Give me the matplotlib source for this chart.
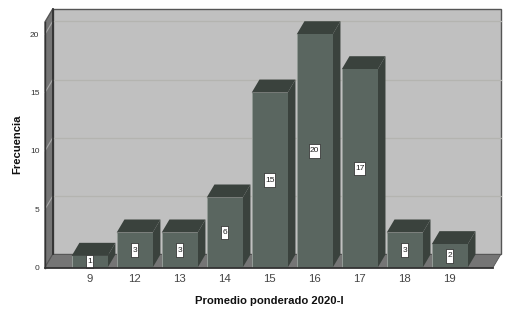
import matplotlib
matplotlib.use("Agg")
import matplotlib.pyplot as plt
from matplotlib.patches import Polygon
from matplotlib.path import Path

plt.rcParams['font.family'] = ['Liberation Sans', 'DejaVu Sans']

categories = ['9', '12', '13', '14', '15', '16', '17', '18', '19']
frequencies = [1, 3, 3, 6, 15, 20, 17, 3, 2]
y_ticks = [0, 5, 10, 15, 20]

W, H = 519, 321
fig = plt.figure(figsize=(W / 100, H / 100), dpi=100, facecolor='white')
ax = fig.add_axes([45 / W, 1 - 267.5 / H, 448 / W, 245.5 / H])
x0, x1, y0, y1 = -0.993, 8.96, 0, 21.05
ax.set_xlim(x0, x1)
ax.set_ylim(y0, y1)
for s in ax.spines.values():
    s.set_visible(False)
ax.patch.set_visible(False)

# oblique depth, in data units
dx = 7.7 / 45
dy = 13 / 11.65
width = 0.8
edge = '#555555'


def poly(pts, fc, ec='none', lw=0, z=1):
    ax.add_patch(Polygon(pts, closed=True, fc=fc, ec=ec, lw=lw, zorder=z, clip_on=False))


def label_box(x, y, w, h, mutation_size):
    px, py = 1.0, 3.2
    xa, xb, ya, yb = x - px, x + w + px, y - py, y + h + py
    return Path([(xa, ya), (xb, ya), (xb, yb), (xa, yb), (xa, ya)], closed=True)


# walls and floor
poly([(x0 + dx, y0 + dy), (x1 + dx, y0 + dy), (x1 + dx, y1 + dy), (x0 + dx, y1 + dy)], '#c0c0c0', edge, 1.0)
poly([(x0, y0), (x0 + dx, y0 + dy), (x0 + dx, y1 + dy), (x0, y1)], '#757575', edge, 1.0)
poly([(x0, y0), (x1, y0), (x1 + dx, y0 + dy), (x0 + dx, y0 + dy)], '#757575', edge, 0.6)

# gridlines on back and left walls
for t in y_ticks[1:]:
    ax.plot([x0 + dx, x1 + dx], [t + dy, t + dy], color='#b4b4b0', lw=0.9, zorder=1.5, clip_on=False)
    ax.plot([x0, x0 + dx], [t, t + dy], color='#a8a8a8', lw=0.8, zorder=1.5, clip_on=False)
ax.plot([x0, x1], [0, 0], color='#333333', lw=1.3, zorder=9, clip_on=False)
ax.plot([x0, x0], [0, y1], color='#333333', lw=1.0, zorder=9, clip_on=False)
ax.plot([x0 + dx, x0 + dx], [dy, y1 + dy], color='#333333', lw=1.3, zorder=1.6, clip_on=False)

# bars
positions = list(range(len(categories)))
bars = ax.bar(positions, frequencies, width=width, color='#5a6660', edgecolor='none', zorder=3)
for i, (b, v) in enumerate(zip(bars, frequencies)):
    l, r = b.get_x(), b.get_x() + b.get_width()
    z = 2 + i * 0.01
    poly([(l, v), (r, v), (r + dx, v + dy), (l + dx, v + dy)], '#3a423d', z=z)
    poly([(r, 0), (r + dx, dy), (r + dx, v + dy), (r, v)], '#3a423d', z=z)
    ax.plot([l, l], [0, v], color='#aab0ac', lw=0.5, zorder=3.2)
    ax.text(i, v / 2, str(v), ha='center', va='center', fontsize=6, color='#222222', zorder=8,
            bbox=dict(boxstyle=label_box, fc='white', ec='#222222', lw=0.5))

ax.set_xticks(positions, categories, fontsize=8.2, color='#444444')
ax.set_yticks(y_ticks, [str(t) for t in y_ticks], fontsize=6, color='#333333')
ax.tick_params(axis='both', length=0)
ax.tick_params(axis='x', pad=4.5)
ax.tick_params(axis='y', pad=4)

fig.text(269 / W, 1 - 301 / H, 'Promedio ponderado 2020-I', ha='center', va='center',
         fontsize=8.1, fontweight='bold', color='#111111')
fig.text(17 / W, 1 - 144 / H, 'Frecuencia', ha='center', va='center', rotation=90,
         fontsize=8.1, fontweight='bold', color='#111111')

fig.savefig('out.png', dpi=100)
